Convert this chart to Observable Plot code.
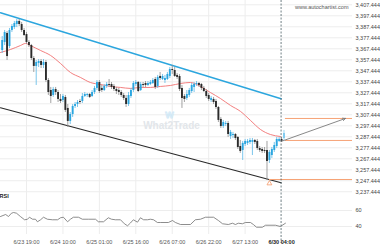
<!DOCTYPE html>
<html><head><meta charset="utf-8">
<script src="https://cdn.jsdelivr.net/npm/d3@7"></script>
<script src="https://cdn.jsdelivr.net/npm/@observablehq/plot@0.6"></script>
<style>
html,body{margin:0;padding:0;background:#fff;}
#chart{width:380px;height:250px;overflow:hidden;position:relative;}
#chart svg{display:block;}
</style></head><body><div id="chart"></div>
<script>
// hourly candles, index 0..116
const open = [3365.9,3373.2,3381.4,3369.5,3384.1,3386.8,3389.5,3392.3,3389.5,3384.1,
3380.4,3373.2,3370.4,3358.6,3351.4,3354.1,3355.9,3352.3,3355.0,3338.6,
3329.5,3325.0,3330.4,3327.7,3321.4,3320.4,3323.2,3313.2,3301.4,3307.7,
3315.0,3316.8,3319.5,3319.5,3324.1,3325.0,3325.9,3324.1,3327.7,3331.4,
3336.8,3331.4,3329.5,3333.2,3335.0,3335.0,3333.2,3330.4,3329.5,3327.7,
3325.0,3322.3,3316.8,3324.1,3329.5,3335.0,3336.8,3329.5,3335.0,3335.9,
3334.1,3335.0,3335.9,3339.5,3333.2,3342.3,3339.5,3338.6,3339.5,3342.3,
3348.6,3347.7,3343.2,3342.3,3331.4,3324.1,3322.3,3325.0,3328.6,3332.3,
3335.0,3335.9,3335.0,3331.4,3328.6,3325.0,3320.4,3321.4,3319.5,3314.1,
3303.2,3296.8,3298.6,3299.5,3287.7,3288.6,3289.5,3286.8,3278.6,3275.0,
3280.4,3281.4,3282.3,3282.3,3284.1,3283.2,3276.8,3275.9,3275.0,3275.0,
3265.9,3270.4,3275.0,3278.6,3283.2,3285.0,3285.9];
const close = [3375.0,3382.3,3360.4,3384.1,3387.7,3390.4,3392.3,3389.5,3384.1,3379.5,
3373.2,3370.4,3358.6,3351.4,3355.0,3355.9,3352.3,3355.0,3338.6,3327.7,
3324.1,3330.4,3327.7,3321.4,3319.5,3324.1,3311.4,3301.4,3307.7,3315.0,
3316.8,3318.6,3318.6,3324.1,3325.9,3325.9,3323.2,3327.7,3331.4,3336.8,
3328.6,3329.5,3333.2,3335.0,3334.1,3332.3,3330.4,3328.6,3327.7,3325.0,
3322.3,3316.8,3325.0,3329.5,3335.9,3336.8,3328.6,3335.0,3334.1,3334.1,
3335.9,3336.8,3338.6,3332.3,3341.4,3340.4,3342.3,3340.4,3344.1,3348.6,
3347.7,3342.3,3341.4,3330.4,3322.3,3321.4,3325.9,3329.5,3334.1,3335.0,
3335.9,3334.1,3331.4,3328.6,3324.1,3321.4,3322.3,3318.6,3314.1,3302.3,
3296.8,3300.4,3299.5,3289.5,3291.4,3289.5,3285.9,3277.7,3274.1,3281.4,
3283.2,3283.2,3284.1,3284.1,3282.3,3276.8,3275.0,3274.1,3274.1,3265.0,
3273.2,3275.9,3279.5,3285.0,3285.0,3283.2,3290.4];
const high = [3378.6,3384.1,3383.2,3385.9,3389.5,3392.3,3394.1,3394.1,3391.4,3385.9,
3382.3,3375.0,3371.4,3360.4,3356.8,3357.7,3357.7,3357.7,3356.8,3340.4,
3332.3,3332.3,3332.3,3329.5,3325.9,3325.9,3325.0,3316.8,3309.5,3316.8,
3318.6,3320.4,3321.4,3326.8,3327.7,3326.8,3326.8,3329.5,3333.2,3338.6,
3338.6,3334.1,3335.0,3336.8,3339.5,3336.8,3335.0,3332.3,3331.4,3329.5,
3326.8,3325.0,3327.7,3331.4,3337.7,3338.6,3337.7,3336.8,3336.8,3337.7,
3337.7,3338.6,3340.4,3341.4,3343.2,3345.9,3344.1,3343.2,3345.9,3350.4,
3352.3,3350.4,3345.0,3344.1,3334.1,3325.9,3329.5,3331.4,3335.9,3336.8,
3337.7,3336.8,3335.9,3333.2,3330.4,3326.8,3324.1,3323.2,3321.4,3315.0,
3305.0,3302.3,3301.4,3301.4,3293.2,3291.4,3290.4,3287.7,3284.1,3283.2,
3285.0,3285.0,3285.9,3285.9,3285.0,3285.0,3278.6,3277.7,3277.7,3283.2,
3275.0,3277.7,3282.3,3286.8,3286.8,3286.8,3293.2];
const low = [3363.2,3370.4,3356.8,3367.7,3382.3,3385.0,3386.8,3387.7,3382.3,3378.6,
3371.4,3368.6,3356.8,3345.9,3334.1,3350.4,3349.5,3349.5,3336.8,3325.0,
3317.7,3323.2,3325.0,3318.6,3317.7,3318.6,3309.5,3295.9,3298.6,3305.0,
3313.2,3314.1,3316.8,3317.7,3323.2,3323.2,3322.3,3323.2,3325.9,3329.5,
3326.8,3327.7,3328.6,3331.4,3332.3,3330.4,3328.6,3325.9,3325.0,3323.2,
3320.4,3314.1,3315.0,3322.3,3327.7,3333.2,3327.7,3328.6,3332.3,3332.3,
3333.2,3334.1,3335.0,3330.4,3331.4,3338.6,3338.6,3335.9,3338.6,3340.4,
3344.1,3341.4,3339.5,3328.6,3313.2,3318.6,3320.4,3323.2,3326.8,3327.7,
3333.2,3332.3,3329.5,3327.7,3322.3,3319.5,3318.6,3316.8,3312.3,3300.4,
3295.0,3295.0,3296.8,3286.8,3285.0,3285.9,3284.1,3275.9,3272.3,3265.9,
3278.6,3279.5,3280.4,3270.4,3280.4,3275.0,3273.2,3272.3,3272.3,3247.7,
3263.2,3267.7,3273.2,3276.8,3282.3,3282.3,3284.1];

// moving average (red) read at these candle positions
const maIdx = [-0.7,3.4,7.5,9.6,11.6,15.8,19.9,24.0,28.1,32.2,36.3,40.5,44.6,48.7,52.8,56.9,61.0,65.1,69.3,73.4,77.5,81.6,85.7,89.8,94.0,98.1,102.2,106.3,110.4,114.5];
const maVal = [3364.1,3366.8,3370.4,3372.3,3370.4,3365.9,3361.4,3354.1,3345.9,3341.4,3336.8,3335.0,3333.2,3332.3,3331.4,3332.3,3332.3,3333.2,3334.1,3335.9,3336.8,3333.2,3327.7,3322.3,3315.9,3310.5,3302.3,3294.1,3289.5,3287.7];

// RSI read at these candle positions
const rsiIdx = [-0.7,1.4,2.6,3.8,4.7,5.9,7.5,9.2,10.4,11.2,12.5,13.7,14.5,15.8,17,18.6,20.7,22.8,24,25.2,26.9,28.1,29.3,31.4,33,35.5,38.4,39.6,41.7,43.7,45,46.6,48.7,50.3,51.6,52.8,54,55.7,56.9,58.2,59.8,61,62.3,63.9,65.1,68.4,70.1,71.3,73.4,77.5,79.5,81.6,83.7,87,89,90.7,93.1,94.8,96,97.2,98.9,100.1,102.2,103.4,104.7,107.1,108.4,112.5,114.5,116.6];
const rsiVal = [52.5,55,52.5,56.6,57.5,56.6,52.5,48.4,49,51.6,49.1,49.1,45.9,48.4,51.6,49.1,48.4,48.4,50.9,51.6,45.9,49.1,51.6,51.6,49.1,49.1,49.1,45.9,45.9,50.9,49.1,48.4,48.4,43.4,40.9,44.4,48.4,45.4,50.9,48.4,48.4,49.1,48.4,45,45,45,47.5,45,42.5,42.5,48.4,49.1,51.6,51.6,47.5,43.4,42.5,44.1,42.5,44.1,43.4,45,45,42.5,39.1,39.1,41.6,41.6,40,44.1];

const timeTickIdx = [10,25,40,55,70,85,100,115];
const timeTickLabels = ["6/23 19:00","6/24 10:00","6/25 01:00","6/25 16:00","6/26 07:00","6/26 22:00","6/27 13:00","6/30 04:00"];
const priceTicks = [3237.444,3247.444,3257.444,3267.444,3277.444,3287.444,3297.444,3307.444,3317.444,3327.444,3337.444,3347.444,3357.444,3367.444,3377.444,3387.444,3397.444,3407.444];
const rsiTicks = [40,60];

// channel lines and projection
const upperLine = [{i:-0.7,p:3400.2},{i:114.8,p:3322.0}];
const lowerLine = [{i:-0.7,p:3313.8},{i:114.8,p:3245.6}];
const levels = [{p:3304.1,i1:116.6,i2:144.2},{p:3284.1,i1:116.6,i2:144.2},{p:3248.6,i1:110,i2:144.2}];
const projection = [{i1:114.8,p1:3283.2,i2:141.3,p2:3304.1}];
const marker = [{i:110,p:3245.0}];
const nowIdx = 114.8;

const xDomain = [-0.7,144.2];
const fmt = d3.format(",.3f");
const FONT = "Liberation Sans, Arial, sans-serif";
const UP = "#2aa6e0", DOWN = "#2b2b2b";

const candles = open.map((o,i)=>({i,o,c:close[i],h:high[i],l:low[i]}));
const ma = maIdx.map((i,k)=>({i,p:maVal[k]}));
const rsi = rsiIdx.map((i,k)=>({i,v:rsiVal[k]}));
const col = d => d.i===116 ? "#7fcaf0" : (d.c>=d.o ? UP : DOWN);
const wickCol = d => d.i===116 ? "#7fcaf0" : (d.c>=d.o ? "#5bb8e6" : "#8a8a8a");

const main = Plot.plot({
  width:380, height:200, marginLeft:0, marginRight:28, marginTop:0, marginBottom:0,
  x:{domain:xDomain, axis:null},
  y:{domain:[3229.5,3411.35], axis:null},
  style:{fontFamily:FONT, fontSize:"5.5px", background:"transparent", overflow:"visible"},
  marks:[
    Plot.ruleY(priceTicks,{stroke:"#ededed", strokeWidth:1}),
    Plot.ruleX(timeTickIdx.slice(0,7),{stroke:"#ededed", strokeWidth:1}),
    Plot.text(["W"],{x:()=>68.9, y:()=>3307.2, fill:"none", stroke:"#cfe8f6", strokeWidth:0.8, fontSize:9, fontWeight:"bold"}),
    Plot.text(["What2Trade"],{x:()=>69.7, y:()=>3297.2, fill:"#e2e6ea", fontSize:10, fontWeight:"bold"}),
    Plot.line(upperLine,{x:"i", y:"p", stroke:"#2ca6de", strokeWidth:1.4}),
    Plot.line(lowerLine,{x:"i", y:"p", stroke:"#2a2a2a", strokeWidth:1.2}),
    Plot.line(ma,{x:"i", y:"p", stroke:"#f07070", strokeWidth:0.9, curve:"monotone-x"}),
    Plot.ruleX(candles,{x:"i", y1:"l", y2:"h", stroke:wickCol, strokeWidth:0.8}),
    Plot.ruleX(candles,{x:"i", y1:"o", y2:"c", stroke:col, strokeWidth:1.9}),
    Plot.ruleY(levels,{y:"p", x1:"i1", x2:"i2", stroke:"#f6a275", strokeWidth:1}),
    Plot.arrow(projection,{x1:"i1", y1:"p1", x2:"i2", y2:"p2", stroke:"#7a7a7a", strokeWidth:0.9, headLength:5, headAngle:50}),
    Plot.dot(marker,{x:"i", y:"p", symbol:"triangle", r:1.8, stroke:"#f59a6a", fill:"none", strokeWidth:0.8}),
    Plot.ruleX([nowIdx],{stroke:"#4d5f66", strokeWidth:0.8, strokeDasharray:"2,1.5"}),
    Plot.text(["www.autochartist.com"],{frameAnchor:"top-right", textAnchor:"end", dx:-4, dy:5, fill:"#555"}),
    Plot.text(priceTicks,{y:d=>d, text:d=>fmt(d), frameAnchor:"right", textAnchor:"start", dx:3, fill:"#444"}),
    Plot.text(["RSI"],{frameAnchor:"bottom-left", textAnchor:"start", dx:-1, dy:-3, fill:"#222", fontWeight:"bold"})
  ]
});

const lower = Plot.plot({
  width:380, height:50, marginLeft:0, marginRight:28, marginTop:0, marginBottom:16,
  x:{domain:xDomain, axis:null},
  y:{domain:[30,72.5], axis:null},
  style:{fontFamily:FONT, fontSize:"5.5px", background:"transparent", overflow:"visible"},
  marks:[
    Plot.ruleY(rsiTicks,{stroke:"#ededed", strokeWidth:1}),
    Plot.ruleX(timeTickIdx.slice(0,7),{stroke:"#ededed", strokeWidth:1}),
    Plot.line(rsi,{x:"i", y:"v", stroke:"#707070", strokeWidth:0.8}),
    Plot.ruleX([nowIdx],{y1:72.5, y2:18.75, stroke:"#4d5f66", strokeWidth:0.8, strokeDasharray:"2,1.5"}),
    Plot.text(rsiTicks,{y:d=>d, text:d=>String(d), frameAnchor:"right", textAnchor:"start", dx:3, fill:"#444"}),
    Plot.text(timeTickIdx.slice(0,7),{x:d=>d, text:(d,i)=>timeTickLabels[i], frameAnchor:"bottom", dy:9, fill:"#555"}),
    Plot.text([timeTickIdx[7]],{x:d=>d, text:()=>timeTickLabels[7], frameAnchor:"bottom", dy:9, fill:"#222", fontWeight:"bold"})
  ]
});

const el = document.getElementById("chart");
el.appendChild(main);
el.appendChild(lower);
</script></body></html>
